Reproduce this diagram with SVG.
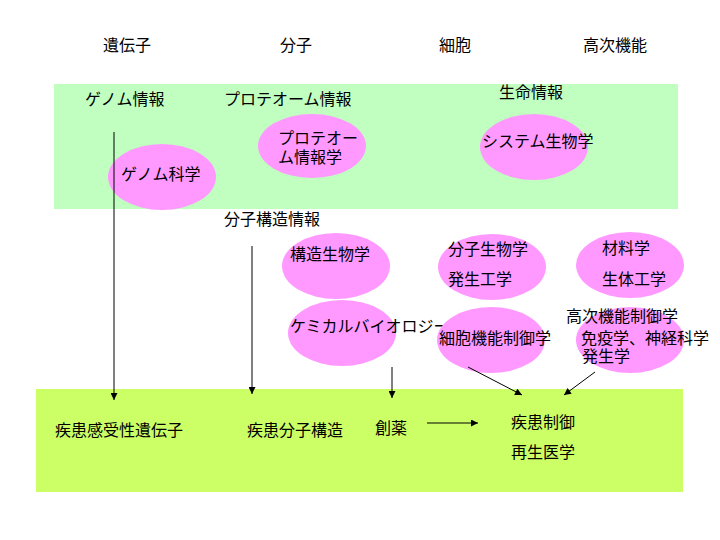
<svg xmlns="http://www.w3.org/2000/svg" width="720" height="540" viewBox="0 0 720 540">
<style>
text{font-family:"Noto Sans CJK JP","Liberation Sans",sans-serif;font-size:16px;fill:#000}
.e{fill:#FF99FF;stroke:none}
.c{stroke:#000;stroke-width:1;fill:none}
</style>
<defs>
<marker id="ah" viewBox="0 0 10 10" refX="10" refY="5" markerWidth="8" markerHeight="7" markerUnits="userSpaceOnUse" orient="auto">
<path d="M0,0 L10,5 L0,10 z" fill="#000"/>
</marker>
</defs>
<rect width="720" height="540" fill="#fff"/>
<g id="headers">
<text x="103" y="51">遺伝子</text>
<text x="280" y="51">分子</text>
<text x="439" y="51">細胞</text>
<text x="583" y="51">高次機能</text>
</g>
<g id="band-top">
<rect x="54" y="84" width="624" height="125" fill="#C0FFC0"/>
<text x="85" y="105">ゲノム情報</text>
<text x="224" y="105">プロテオーム情報</text>
<text x="499" y="98">生命情報</text>
</g>
<g id="band-bottom">
<rect x="36" y="389" width="647" height="103" fill="#CCFF66"/>
<text x="55" y="436">疾患感受性遺伝子</text>
<text x="247" y="436">疾患分子構造</text>
<text x="375" y="434">創薬</text>
<text x="511" y="428">疾患制御</text>
<text x="511" y="458">再生医学</text>
</g>
<g id="genome-science">
<ellipse class="e" cx="162" cy="177" rx="54" ry="33"/>
<text x="121" y="180">ゲノム科学</text>
</g>
<g id="proteome-info">
<ellipse class="e" cx="312" cy="146" rx="54" ry="32"/>
<text x="278" y="144">プロテオー</text>
<text x="278" y="163">ム情報学</text>
</g>
<g id="systems-biology">
<ellipse class="e" cx="534" cy="147" rx="54" ry="33"/>
<text x="482" y="147">システム生物学</text>
</g>
<text x="224" y="225">分子構造情報</text>
<g id="structural-biology">
<ellipse class="e" cx="336" cy="266" rx="54" ry="33"/>
<text x="290" y="260">構造生物学</text>
</g>
<g id="chemical-biology">
<ellipse class="e" cx="342" cy="333" rx="54" ry="33"/>
<text x="290" y="332">ケミカルバイオロジー</text>
</g>
<g id="molecular-biology">
<ellipse class="e" cx="492" cy="267" rx="54" ry="33"/>
<text x="448" y="255">分子生物学</text>
<text x="448" y="285">発生工学</text>
</g>
<g id="materials">
<ellipse class="e" cx="630" cy="265" rx="54" ry="33"/>
<text x="602" y="254">材料学</text>
<text x="602" y="285">生体工学</text>
</g>
<g id="cell-function">
<ellipse class="e" cx="491" cy="340" rx="54" ry="33"/>
<text x="439" y="344">細胞機能制御学</text>
</g>
<g id="higher-function">
<ellipse class="e" cx="630" cy="340" rx="54" ry="33"/>
<text x="566" y="322">高次機能制御学</text>
<text x="581" y="344">免疫学、神経科学</text>
<text x="582" y="362">発生学</text>
</g>
<g id="connectors">
<line class="c" x1="114" y1="132" x2="114" y2="400" marker-end="url(#ah)"/>
<line class="c" x1="252" y1="246" x2="252" y2="394" marker-end="url(#ah)"/>
<line class="c" x1="392" y1="367" x2="392" y2="398" marker-end="url(#ah)"/>
<line class="c" x1="468" y1="367" x2="522" y2="395" marker-end="url(#ah)"/>
<line class="c" x1="595" y1="372" x2="564" y2="395" marker-end="url(#ah)"/>
<line class="c" x1="427" y1="423" x2="478" y2="423" marker-end="url(#ah)"/>
</g>
</svg>
